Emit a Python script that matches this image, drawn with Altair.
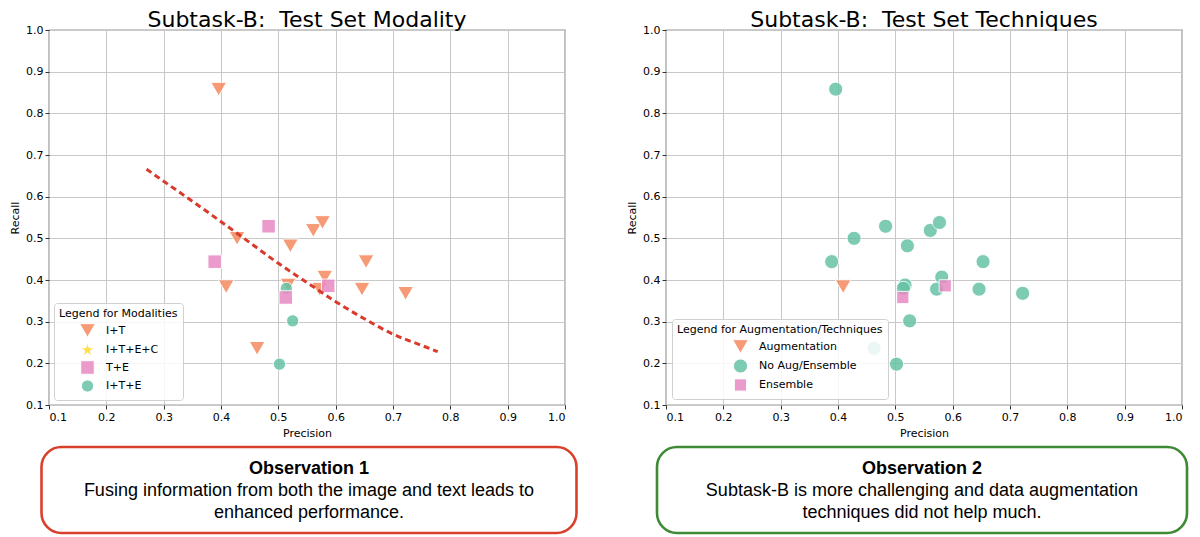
import altair as alt
import pandas as pd

# ---------------- data ----------------
precision = [0.396, 0.428, 0.521, 0.561, 0.577, 0.653, 0.581, 0.572, 0.646, 0.722,
             0.409, 0.463, 0.517, 0.514, 0.525, 0.502, 0.483, 0.389, 0.513, 0.587]
recall = [0.858, 0.500, 0.482, 0.519, 0.538, 0.444, 0.407, 0.378, 0.378, 0.368,
          0.384, 0.236, 0.388, 0.380, 0.302, 0.198, 0.529, 0.444, 0.358, 0.386]
modality = ["I+T"] * 13 + ["I+T+E"] * 3 + ["T+E"] * 4
technique = (["No Aug/Ensemble"] * 10 + ["Augmentation"] + ["No Aug/Ensemble"] * 7
             + ["Ensemble"] * 2)

trend_p = [0.270, 0.300, 0.350, 0.400, 0.450, 0.500, 0.550, 0.600, 0.650,
           0.700, 0.750, 0.778]
trend_r = [0.666, 0.637, 0.589, 0.540, 0.490, 0.440, 0.394, 0.348, 0.307,
           0.270, 0.243, 0.228]

ticks = [0.1, 0.2, 0.3, 0.4, 0.5, 0.6, 0.7, 0.8, 0.9, 1.0]

mod_domain = ["I+T", "I+T+E+C", "T+E", "I+T+E"]
mod_colors = ["#f58a5e", "#ffd92f", "#e78ac3", "#66c2a5"]
STAR = ("M0,-1L0.2245,-0.309L0.951,-0.309L0.363,0.118L0.588,0.809L0,0.382"
        "L-0.588,0.809L-0.363,0.118L-0.951,-0.309L-0.2245,-0.309Z")
mod_shapes = ["triangle-down", STAR, "square", "circle"]
mod_sizes = [250, 150, 300, 250]
mod_z = {"I+T": 0, "I+T+E": 1, "T+E": 2}

tech_domain = ["Augmentation", "No Aug/Ensemble", "Ensemble"]
tech_colors = ["#f58a5e", "#66c2a5", "#e78ac3"]
tech_shapes = ["triangle-down", "circle", "square"]
tech_sizes = [250, 150, 200]
tech_z = {"No Aug/Ensemble": 0, "Augmentation": 1, "Ensemble": 2}

df = pd.DataFrame({
    "precision": precision,
    "recall": recall,
    "modality": modality,
    "technique": technique,
})
df["zl"] = df["modality"].map(mod_z)
df["zr"] = df["technique"].map(tech_z)
df["msize"] = df["modality"]
df["tsize"] = df["technique"]
trend_df = pd.DataFrame({"precision": trend_p, "recall": trend_r})
one = pd.DataFrame({"k": [0]})

W, H = 516, 375
FONT = "DejaVu Sans"
BOXFONT = "Liberation Sans"


def xenc():
    return alt.X("precision:Q", scale=alt.Scale(domain=[0.1, 1.0], nice=False, zero=False),
                 axis=alt.Axis(values=ticks, format=".1f", title="Precision"))


def yenc():
    return alt.Y("recall:Q", scale=alt.Scale(domain=[0.1, 1.0], nice=False, zero=False),
                 axis=alt.Axis(values=ticks, format=".1f", title="Recall"))


def title_mark(text, cx):
    return alt.Chart(one).mark_text(
        text=text, font=FONT, fontSize=22, color="black",
        align="center", baseline="alphabetic"
    ).encode(x=alt.value(cx), y=alt.value(-3))


def obs_box(x0, x1, cx, color, head, line1, line2):
    rect = alt.Chart(one).mark_rect(
        cornerRadius=20, fillOpacity=0, stroke=color, strokeWidth=2.6
    ).encode(x=alt.value(x0), x2=alt.value(x1), y=alt.value(417), y2=alt.value(503))
    t0 = alt.Chart(one).mark_text(
        text=head, font=BOXFONT, fontSize=18, fontWeight="bold", color="black",
        align="center", baseline="middle"
    ).encode(x=alt.value(cx), y=alt.value(439))
    t1 = alt.Chart(one).mark_text(
        text=line1, font=BOXFONT, fontSize=18, color="black",
        align="center", baseline="middle"
    ).encode(x=alt.value(cx), y=alt.value(461))
    t2 = alt.Chart(one).mark_text(
        text=line2, font=BOXFONT, fontSize=18, color="black",
        align="center", baseline="middle"
    ).encode(x=alt.value(cx), y=alt.value(483))
    return rect + t0 + t1 + t2


legend_common = dict(
    orient="bottom-left", padding=5, fillColor="rgba(255,255,255,0.85)",
    strokeColor="#d0d0d0", cornerRadius=3, titleFontWeight="normal",
    titleFontSize=11, labelFontSize=11, titleFont=FONT, labelFont=FONT,
    titleColor="black", labelColor="black", symbolSize=140, rowPadding=0,
    symbolStrokeColor="white", symbolStrokeWidth=1, titleLimit=400,
    labelLimit=300, titlePadding=3, labelOffset=10,
)

# ---------------- left panel ----------------
left_pts = alt.Chart(df).mark_point(filled=True, opacity=0.85, stroke="white",
                                    strokeWidth=1).encode(
    x=xenc(), y=yenc(),
    color=alt.Color("modality:N", scale=alt.Scale(domain=mod_domain, range=mod_colors),
                    legend=alt.Legend(title="Legend for Modalities", symbolOffset=20,
                                      offset=5, **legend_common)),
    shape=alt.Shape("modality:N", scale=alt.Scale(domain=mod_domain, range=mod_shapes)),
    size=alt.Size("msize:N", scale=alt.Scale(domain=mod_domain, range=mod_sizes),
                  legend=None),
    order=alt.Order("zl:Q"),
)
trend = alt.Chart(trend_df).mark_line(color="#d93a2b", strokeWidth=3,
                                      strokeDash=[6, 4], interpolate="monotone").encode(
    x="precision:Q", y="recall:Q")

left = alt.layer(
    left_pts, trend,
    title_mark("Subtask-B:\u00a0 Test Set Modality", 258),
    obs_box(-7.5, 527.5, 260, "#d9402c", "Observation 1",
            "Fusing information from both the image and text leads to",
            "enhanced performance."),
).properties(width=W, height=H)

# ---------------- right panel ----------------
right_pts = alt.Chart(df).mark_point(filled=True, opacity=0.85, stroke="white",
                                     strokeWidth=1).encode(
    x=xenc(), y=yenc(),
    color=alt.Color("technique:N", scale=alt.Scale(domain=tech_domain, range=tech_colors),
                    legend=alt.Legend(title="Legend for Augmentation/Techniques",
                                      symbolOffset=55, offset=6, **legend_common)),
    shape=alt.Shape("technique:N", scale=alt.Scale(domain=tech_domain, range=tech_shapes)),
    size=alt.Size("tsize:N", scale=alt.Scale(domain=tech_domain, range=tech_sizes),
                  legend=None),
    order=alt.Order("zr:Q"),
)

right = alt.layer(
    right_pts,
    title_mark("Subtask-B:\u00a0 Test Set Techniques", 258),
    obs_box(-9, 521, 256, "#3f8a35", "Observation 2",
            "Subtask-B is more challenging and data augmentation",
            "techniques did not help much."),
).properties(width=W, height=H)

chart = alt.hconcat(left, right, spacing=46).resolve_scale(
    color="independent", shape="independent", size="independent"
).properties(padding=0).configure_view(
    stroke="#333333", strokeWidth=1.2
).configure_axis(
    labelFont=FONT, titleFont=FONT, labelFontSize=11, titleFontSize=11,
    labelColor="black", titleColor="black", titleFontWeight="normal",
    gridColor="#c8c8c8", gridWidth=1, domain=False, tickColor="#333333",
    tickSize=4, labelPadding=2, titlePadding=5,
)

chart.save("out.html", embed_options={"renderer": "svg", "actions": False})
